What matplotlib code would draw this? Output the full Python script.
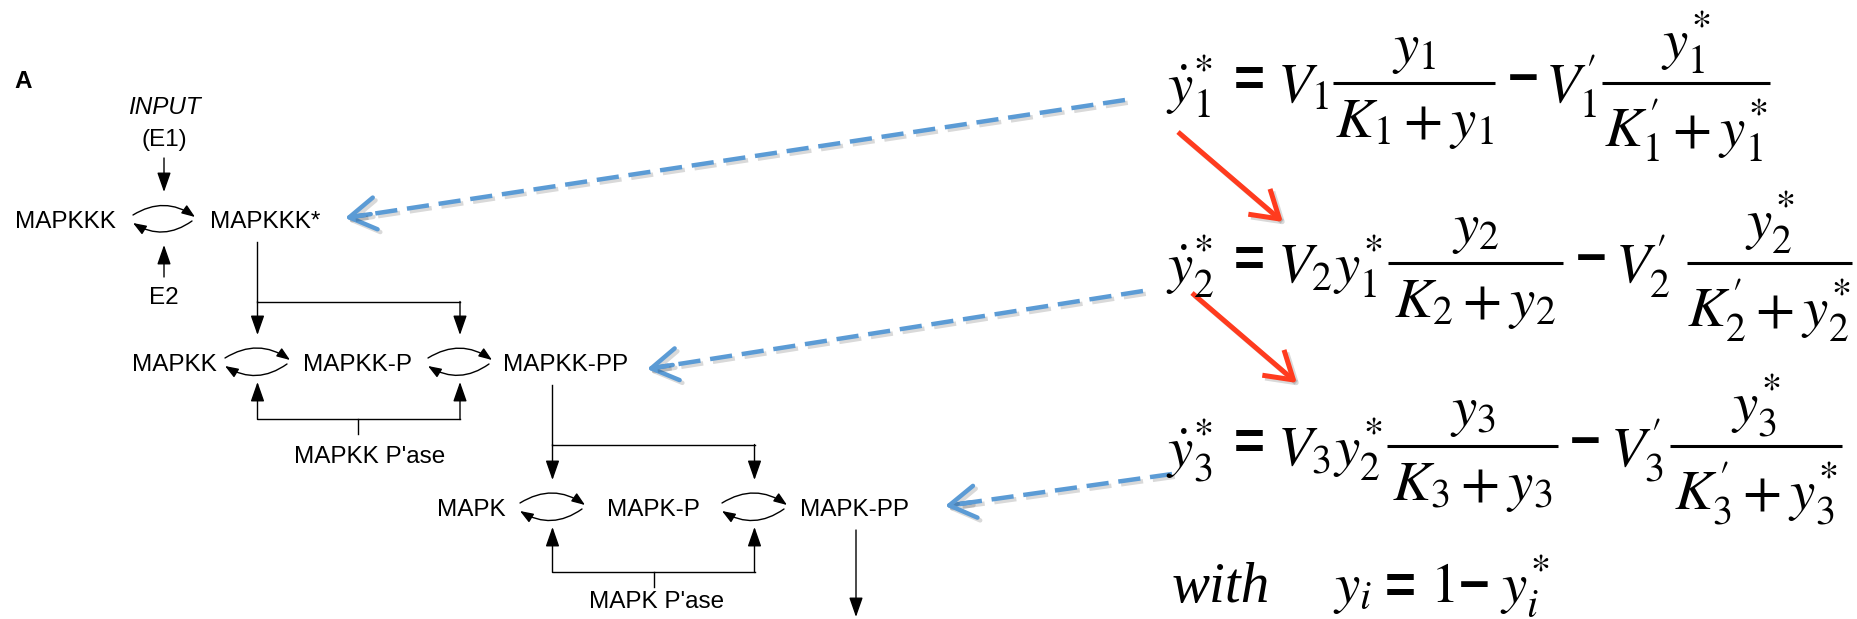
import matplotlib
matplotlib.use('Agg')
import matplotlib.pyplot as plt
import matplotlib.patheffects as pe
from matplotlib.patches import FancyArrowPatch

plt.rcParams['font.family'] = ['Liberation Sans', 'DejaVu Sans']
plt.rcParams['mathtext.fontset'] = 'stix'

# Cascade tiers, top to bottom
tier_species = [
    ['MAPKKK', 'MAPKKK*'],
    ['MAPKK', 'MAPKK-P', 'MAPKK-PP'],
    ['MAPK', 'MAPK-P', 'MAPK-PP'],
]
tier_phosphatase = [None, "MAPKK P'ase", "MAPK P'ase"]
input_label = ['INPUT', '(E1)']
inhibitor_label = 'E2'
panel_label = 'A'

# Rate equations, one row per tier
eq_lhs = [r'$\dot{y}_1^{*}$', r'$\dot{y}_2^{*}$', r'$\dot{y}_3^{*}$']
eq_gain = [r'$V_1$', r'$V_2y_1^{*}$', r'$V_3y_2^{*}$']
eq_num1 = [r'$y_1$', r'$y_2$', r'$y_3$']
eq_den1 = [r'$K_1+y_1$', r'$K_2+y_2$', r'$K_3+y_3$']
eq_loss = [r"$V_1'$", r"$V_2'$", r"$V_3'$"]
eq_num2 = [r'$y_1^{*}$', r'$y_2^{*}$', r'$y_3^{*}$']
eq_den2 = [r"$K_1'+y_1^{*}$", r"$K_2'+y_2^{*}$", r"$K_3'+y_3^{*}$"]
closure = ['with', r'$y_i$', '=', r'$1$', '\u2212', r'$y_i^{*}$']

# layout (pixels, y pointing down)
W, H = 1857, 619
tier_y = [222, 365, 510]
species_x = [[15, 210], [132, 303, 503], [437, 607, 800]]
cycle_x = [[(133, 195)], [(225, 290), (428, 492)], [(520, 585), (722, 787)]]
branch_x = [257, 552, 856]
branch_bar_y = [302, 445]
pase_bar_y = [None, 419, 572]
pase_stub_x = [None, 358, 654]
pase_label_xy = [None, (370, 457), (657, 602)]

eq_bar_y = [83, 263, 446]
eq_bar1 = [(1333, 1495), (1388, 1563), (1387, 1558)]
eq_bar2 = [(1602, 1770), (1687, 1852), (1670, 1842)]
eq_minus_x = [1523, 1591, 1585]
eq_loss_x = [1545, 1615, 1610]

blue_links = [((1125, 100), (345, 218)), ((1143, 291), (647, 369)),
              ((1172, 474), (945, 506))]
red_links = [((1178, 132), (1283, 222)), ((1192, 293), (1297, 383))]

BLUE = '#5b9bd5'
RED = '#ff3b1e'
LBL = 17.5
EQ = 41
OP = 38

fig = plt.figure(figsize=(W / 100, H / 100), dpi=100)
ax = fig.add_axes([0, 0, 1, 1])
ax.set_xlim(0, W)
ax.set_ylim(H, 0)
ax.axis('off')


def arrow(p0, p1, lw=1.0, color='black', style='-|>,head_length=1.0,head_width=0.35', ms=12, **kw):
    a = FancyArrowPatch(p0, p1, arrowstyle=style, mutation_scale=ms, lw=lw,
                        color=color, shrinkA=0, shrinkB=0, **kw)
    ax.add_patch(a)
    return a


def cycle(x0, x1, yc):
    # forward (top) and reverse (bottom) reaction arcs
    arrow((x0, yc - 2), (x1, yc), connectionstyle='arc3,rad=-0.33',
          style='-|>,head_length=0.8,head_width=0.3', ms=10)
    arrow((x1 - 3, yc + 4), (x0, yc + 6), connectionstyle='arc3,rad=-0.33',
          style='-|>,head_length=0.8,head_width=0.3', ms=10)


ax.text(23, 82, panel_label, fontsize=LBL, fontweight='bold', ha='center', va='center')

for t, names in enumerate(tier_species):
    y = tier_y[t]
    for name, x in zip(names, species_x[t]):
        ax.text(x, y, name, fontsize=LBL, ha='left', va='center')
    for x0, x1 in cycle_x[t]:
        cycle(x0, x1, y - 5)

# input and inhibitor on the first tier
cx = 164
ax.text(cx, 108, input_label[0], fontsize=LBL, style='italic', ha='center', va='center')
ax.text(cx, 140, input_label[1], fontsize=LBL, ha='center', va='center')
arrow((cx, 158), (cx, 192))
arrow((cx, 277), (cx, 245))
ax.text(cx, 298, inhibitor_label, fontsize=LBL, ha='center', va='center')

# each active kinase phosphorylates both steps of the next tier
for t in range(2):
    bx = branch_x[t]
    by = branch_bar_y[t]
    top = tier_y[t] + 20
    targets = [(a + b) / 2 for a, b in cycle_x[t + 1]]
    tip = tier_y[t + 1] - 30
    ax.plot([bx, bx], [top, by], color='black', lw=1.0)
    ax.plot([targets[0], targets[1]], [by, by], color='black', lw=1.0)
    for tx in targets:
        arrow((tx, by - 0.5), (tx, tip))

# output arrow from the last tier
arrow((branch_x[2], tier_y[2] + 20), (branch_x[2], 617))

# phosphatases act on both reverse steps
for t in (1, 2):
    by = pase_bar_y[t]
    targets = [(a + b) / 2 for a, b in cycle_x[t]]
    ax.plot([targets[0], targets[1]], [by, by], color='black', lw=1.0)
    for tx in targets:
        arrow((tx, by + 0.5), (tx, tier_y[t] + 17))
    sx = pase_stub_x[t]
    ax.plot([sx, sx], [by, by + 15], color='black', lw=1.0)
    lx, ly = pase_label_xy[t]
    ax.text(lx, ly, tier_phosphatase[t], fontsize=LBL, ha='center', va='center')

# rate equations
for i in range(3):
    by = eq_bar_y[i]
    base = by + 20
    ax.text(1166, base, eq_lhs[i], fontsize=EQ, ha='left', va='baseline')
    ax.text(1249, by - 2, '=', fontsize=OP, fontweight='bold', ha='center', va='center')
    ax.text(1277, base, eq_gain[i], fontsize=EQ, ha='left', va='baseline')
    for (x0, x1), num, den in ((eq_bar1[i], eq_num1[i], eq_den1[i]),
                               (eq_bar2[i], eq_num2[i], eq_den2[i])):
        ax.plot([x0, x1], [by, by], color='black', lw=2.2, solid_capstyle='butt')
        ax.text((x0 + x1) / 2, by - 7, num, fontsize=EQ, ha='center', va='bottom')
        ax.text((x0 + x1) / 2, by + 14, den, fontsize=EQ, ha='center', va='top')
    ax.text(eq_minus_x[i], by - 2, '\u2212', fontsize=OP, fontweight='bold', ha='center', va='center')
    ax.text(eq_loss_x[i], base, eq_loss[i], fontsize=EQ, ha='left', va='baseline')

# conservation relation
ax.text(1172, 602, closure[0], fontsize=EQ, family='Liberation Serif', style='italic',
        ha='left', va='baseline')
ax.text(1333, 602, closure[1], fontsize=EQ, ha='left', va='baseline')
ax.text(1400, 588, closure[2], fontsize=OP, fontweight='bold', ha='center', va='center')
ax.text(1430, 602, closure[3], fontsize=EQ, ha='left', va='baseline')
ax.text(1474, 588, closure[4], fontsize=OP, fontweight='bold', ha='center', va='center')
ax.text(1500, 602, closure[5], fontsize=EQ, ha='left', va='baseline')

# dashed links from each equation to its species
shadow = [pe.SimpleLineShadow(offset=(2, -2), alpha=0.15), pe.Normal()]
for (x0, y0), (x1, y1) in blue_links:
    dx, dy = x1 - x0, y1 - y0
    n = (dx ** 2 + dy ** 2) ** 0.5
    ex, ey = x1 - dx / n * 8, y1 - dy / n * 8
    ax.plot([x0, ex], [y0, ey], color=BLUE, lw=3.2, dashes=(5, 2.2),
            path_effects=shadow)
    arrow((x1 - dx / n * 26, y1 - dy / n * 26), (x1, y1), lw=3.2, color=BLUE,
          style='->,head_length=0.9,head_width=0.55', ms=21, path_effects=shadow)

# coupling between successive tiers
for p0, p1 in red_links:
    arrow(p0, p1, lw=3.6, color=RED, style='->,head_length=0.8,head_width=0.5', ms=24,
          capstyle='butt', path_effects=shadow)

fig.savefig('out.png', dpi=100)
